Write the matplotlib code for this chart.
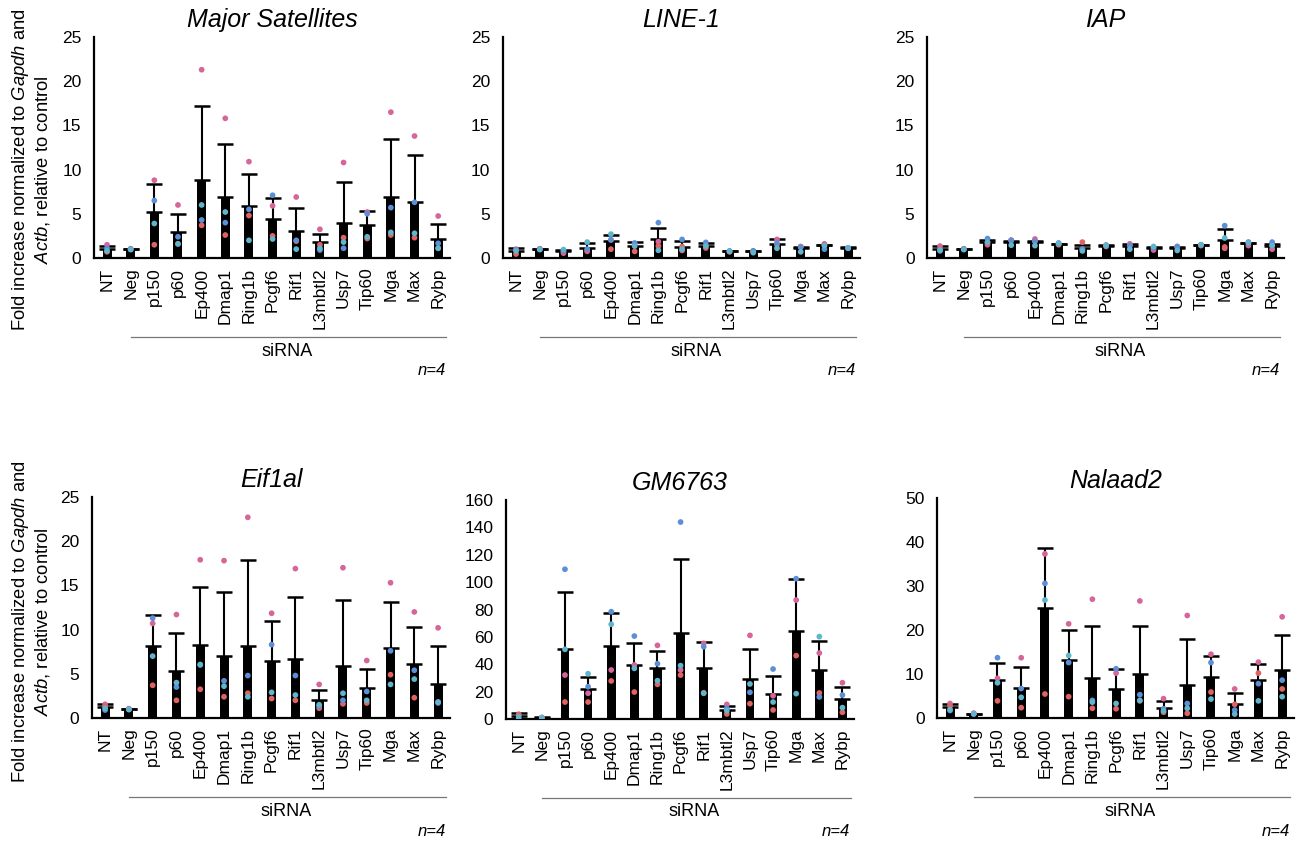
import matplotlib
matplotlib.use("Agg")
import matplotlib.pyplot as plt
import matplotlib.transforms as mtransforms
import numpy as np

plt.rcParams["font.family"] = ["Liberation Sans", "DejaVu Sans"]
plt.rcParams["mathtext.fontset"] = "custom"
plt.rcParams["mathtext.rm"] = "Liberation Sans"
plt.rcParams["mathtext.it"] = "Liberation Sans:italic"

CATEGORIES = ["NT", "Neg", "p150", "p60", "Ep400", "Dmap1", "Ring1b", "Pcgf6",
              "Rif1", "L3mbtl2", "Usp7", "Tip60", "Mga", "Max", "Rybp"]

# Major Satellites
MAJSAT_MEAN = [1.05, 1.0, 5.2, 2.9, 8.8, 6.9, 5.9, 4.4, 3.0, 1.8, 4.0, 3.7, 6.9, 6.3, 2.15]
MAJSAT_SD = [0.31, 0.05, 3.2, 2.1, 8.4, 6.0, 3.6, 2.4, 2.6, 0.95, 4.6, 1.6, 6.6, 5.3, 1.7]
MAJSAT_PINK = [1.5, 1.05, 8.8, 6.0, 21.3, 15.8, 10.9, 5.9, 6.9, 3.25, 10.8, 5.2, 16.5, 13.8, 4.75]
MAJSAT_RED = [0.7, 1.0, 1.5, 1.6, 3.7, 2.6, 4.8, 2.5, 1.9, 1.5, 2.3, 2.2, 2.6, 2.3, 1.1]
MAJSAT_BLUE = [1.1, 1.0, 6.5, 2.4, 4.3, 4.0, 5.5, 7.1, 2.0, 0.9, 1.1, 5.0, 5.7, 6.3, 1.66]
MAJSAT_CYAN = [0.8, 0.95, 3.9, 1.6, 6.0, 5.2, 2.0, 2.15, 1.0, 1.1, 1.8, 2.4, 2.9, 2.8, 1.1]

# LINE-1
LINE1_MEAN = [0.83, 1.0, 0.75, 1.1, 1.95, 1.35, 2.1, 1.3, 1.4, 0.75, 0.75, 1.6, 1.15, 1.45, 1.13]
LINE1_SD = [0.3, 0.05, 0.15, 0.55, 0.65, 0.45, 1.3, 0.6, 0.3, 0.08, 0.08, 0.6, 0.15, 0.05, 0.07]
LINE1_PINK = [1.0, 1.05, 0.55, 0.75, 2.05, 1.6, 1.85, 0.85, 1.35, 0.75, 0.8, 2.1, 1.25, 1.6, 1.1]
LINE1_RED = [0.45, 1.0, 0.7, 0.85, 1.0, 0.75, 1.35, 1.3, 1.13, 0.7, 0.75, 1.5, 1.3, 1.5, 1.15]
LINE1_BLUE = [0.9, 1.0, 0.8, 1.0, 2.05, 1.7, 4.0, 2.1, 1.77, 0.8, 0.8, 1.7, 1.25, 1.0, 1.1]
LINE1_CYAN = [0.8, 0.95, 0.95, 1.8, 2.7, 1.35, 0.87, 1.0, 1.35, 0.75, 0.6, 1.1, 0.7, 1.4, 1.15]

# IAP
IAP_MEAN = [1.0, 1.0, 1.8, 1.85, 1.85, 1.6, 1.13, 1.4, 1.36, 1.13, 1.17, 1.47, 2.07, 1.66, 1.4]
IAP_SD = [0.36, 0.05, 0.2, 0.1, 0.1, 0.02, 0.37, 0.02, 0.24, 0.07, 0.05, 0.03, 1.18, 0.04, 0.18]
IAP_PINK = [1.35, 1.05, 1.5, 2.0, 2.15, 1.6, 1.0, 1.3, 1.6, 0.9, 1.2, 1.4, 1.1, 1.4, 1.0]
IAP_RED = [1.0, 1.0, 1.7, 2.0, 1.9, 1.5, 1.8, 1.45, 1.45, 1.15, 1.3, 1.5, 1.25, 1.75, 1.4]
IAP_BLUE = [0.8, 1.0, 2.2, 2.0, 1.9, 1.7, 1.0, 1.45, 1.4, 1.15, 1.3, 1.5, 3.66, 1.8, 1.8]
IAP_CYAN = [0.9, 0.95, 1.8, 1.45, 1.4, 1.6, 0.8, 1.4, 1.0, 1.3, 0.85, 1.5, 2.26, 1.7, 1.4]

# Eif1al
EIF_MEAN = [1.2, 1.0, 8.2, 5.35, 8.3, 7.05, 8.2, 6.4, 6.7, 2.0, 5.9, 3.36, 7.9, 6.1, 3.9]
EIF_SD = [0.35, 0.05, 3.5, 4.25, 6.5, 7.15, 9.7, 4.6, 7.0, 1.2, 7.5, 2.14, 5.2, 4.2, 4.2]
EIF_PINK = [1.55, 1.05, 10.7, 11.7, 17.9, 17.8, 22.7, 11.85, 16.9, 3.8, 17.0, 6.5, 15.3, 12.0, 10.2]
EIF_RED = [1.3, 1.0, 3.7, 2.0, 3.25, 2.4, 2.8, 2.2, 2.0, 1.1, 1.6, 1.7, 4.9, 2.3, 1.8]
EIF_BLUE = [0.9, 1.0, 11.3, 3.5, 6.0, 4.2, 4.8, 8.3, 4.8, 1.36, 2.0, 3.0, 7.6, 5.4, 1.7]
EIF_CYAN = [1.1, 0.95, 7.0, 4.0, 6.05, 3.6, 2.4, 2.9, 2.6, 1.5, 2.8, 2.0, 3.8, 4.4, 1.8]

# GM6763
GM_MEAN = [2.2, 1.0, 51.4, 21.9, 53.6, 39.5, 37.0, 62.6, 37.0, 6.6, 29.5, 18.5, 64.3, 35.8, 14.9]
GM_SD = [2.2, 0.3, 41.6, 8.5, 24.1, 16.3, 12.7, 54.5, 19.3, 3.1, 21.9, 12.9, 38.2, 21.4, 8.7]
GM_PINK = [3.0, 1.0, 32.1, 18.8, 35.8, 39.5, 53.8, 35.8, 55.3, 10.7, 61.1, 17.0, 86.9, 48.2, 26.5]
GM_RED = [3.5, 1.0, 12.4, 12.4, 27.8, 19.7, 25.3, 32.1, 19.2, 3.7, 11.2, 6.6, 46.3, 19.0, 4.9]
GM_BLUE = [0.5, 1.0, 109.4, 23.6, 78.4, 60.6, 40.4, 143.9, 52.8, 7.8, 19.5, 36.5, 102.5, 16.1, 17.5]
GM_CYAN = [1.5, 1.0, 50.9, 33.1, 69.2, 37.0, 28.0, 39.0, 18.8, 6.1, 25.6, 12.4, 18.5, 60.2, 8.3]

# Nalaad2
NAL_MEAN = [2.4, 0.95, 8.6, 6.9, 25.1, 13.1, 9.2, 6.7, 9.9, 2.35, 7.4, 9.3, 3.26, 8.56, 10.8]
NAL_SD = [0.8, 0.05, 4.0, 4.8, 13.5, 6.8, 11.7, 4.5, 11.0, 1.45, 10.6, 4.9, 2.34, 3.74, 8.1]
NAL_PINK = [3.3, 1.1, 9.0, 13.7, 37.3, 21.4, 27.0, 10.2, 26.6, 4.4, 23.3, 14.5, 6.6, 12.7, 23.0]
NAL_RED = [2.7, 1.0, 3.9, 2.35, 5.45, 4.85, 2.2, 2.1, 3.9, 1.3, 1.06, 5.9, 3.1, 10.2, 6.6]
NAL_BLUE = [1.7, 0.9, 13.7, 6.7, 30.6, 12.6, 4.0, 11.2, 5.3, 2.1, 3.3, 12.6, 1.8, 7.8, 8.6]
NAL_CYAN = [1.9, 0.95, 8.0, 4.7, 26.8, 14.2, 3.6, 3.3, 4.0, 1.6, 2.2, 4.3, 0.9, 3.9, 4.85]

REP_COLORS = ["#d6659a", "#e06262", "#5d8fd8", "#5fb6cc"]

W, H = 1302, 844
fig = plt.figure(figsize=(W / 100, H / 100), dpi=100)

# (title, mean, sd, replicates, yticks, axes rect in pixels: x0, x1, y_bottom, y_top)
panels = [
    ("Major Satellites", MAJSAT_MEAN, MAJSAT_SD,
     [MAJSAT_PINK, MAJSAT_RED, MAJSAT_BLUE, MAJSAT_CYAN], np.arange(0, 26, 5), (94, 450, 258, 37)),
    ("LINE-1", LINE1_MEAN, LINE1_SD,
     [LINE1_PINK, LINE1_RED, LINE1_BLUE, LINE1_CYAN], np.arange(0, 26, 5), (503, 860, 258, 37)),
    ("IAP", IAP_MEAN, IAP_SD,
     [IAP_PINK, IAP_RED, IAP_BLUE, IAP_CYAN], np.arange(0, 26, 5), (927, 1284, 258, 37)),
    ("Eif1al", EIF_MEAN, EIF_SD,
     [EIF_PINK, EIF_RED, EIF_BLUE, EIF_CYAN], np.arange(0, 26, 5), (92, 450, 718, 497)),
    ("GM6763", GM_MEAN, GM_SD,
     [GM_PINK, GM_RED, GM_BLUE, GM_CYAN], np.arange(0, 161, 20), (506, 854, 719, 500)),
    ("Nalaad2", NAL_MEAN, NAL_SD,
     [NAL_PINK, NAL_RED, NAL_BLUE, NAL_CYAN], np.arange(0, 51, 10), (937, 1294, 718, 498)),
]

x = np.arange(len(CATEGORIES))

for title, mean, sd, reps, yticks, (px0, px1, pyb, pyt) in panels:
    ax = fig.add_axes([px0 / W, 1 - pyb / H, (px1 - px0) / W, (pyb - pyt) / H])
    ax.bar(x, mean, width=0.38, color="black", zorder=2)
    ax.errorbar(x, mean, yerr=[np.zeros(len(x)), sd], fmt="none", ecolor="black",
                elinewidth=1.5, capsize=5.8, capthick=1.8, zorder=3)
    for vals, col in zip(reps, REP_COLORS):
        ax.scatter(x, vals, s=17, color=col, edgecolors="none", zorder=4)
    ax.set_xlim(-0.55, 14.5)
    ax.set_ylim(0, yticks[-1])
    ax.set_yticks(yticks)
    ax.set_yticklabels([str(v) for v in yticks], fontsize=12.5)
    ax.set_xticks(x)
    ax.set_xticklabels(CATEGORIES, rotation=90, fontsize=12.5)
    ax.tick_params(axis="both", length=0)
    ax.tick_params(axis="y", pad=9)
    ax.tick_params(axis="x", pad=7)
    for side in ("top", "right"):
        ax.spines[side].set_visible(False)
    for side in ("left", "bottom"):
        ax.spines[side].set_linewidth(1.6)
        ax.spines[side].set_color("black")
    ax.set_title(title, fontsize=18, style="italic", pad=7)

    # siRNA bracket under the knock-down conditions
    line_y = 1 - (pyb + 79) / H
    trans = mtransforms.blended_transform_factory(ax.transData, fig.transFigure)
    ax.plot([1, 14.35], [line_y, line_y], transform=trans, color="#777777",
            lw=0.9, clip_on=False)
    ax.text(7.6, 1 - (pyb + 93) / H, "siRNA", transform=trans, ha="center",
            va="center", fontsize=13)
    fig.text((px1 - 4) / W, 1 - (pyb + 113) / H, "n=4", ha="right", va="center",
             fontsize=12, style="italic")

# Shared y-axis captions
for yc in (170, 622):
    fig.text(21 / W, 1 - yc / H, r"Fold increase normalized to $\it{Gapdh}$ and",
             rotation=90, ha="center", va="center", fontsize=13.2)
    fig.text(43 / W, 1 - yc / H, r"$\it{Actb}$, relative to control",
             rotation=90, ha="center", va="center", fontsize=13.2)

fig.savefig("out.png", dpi=100)
